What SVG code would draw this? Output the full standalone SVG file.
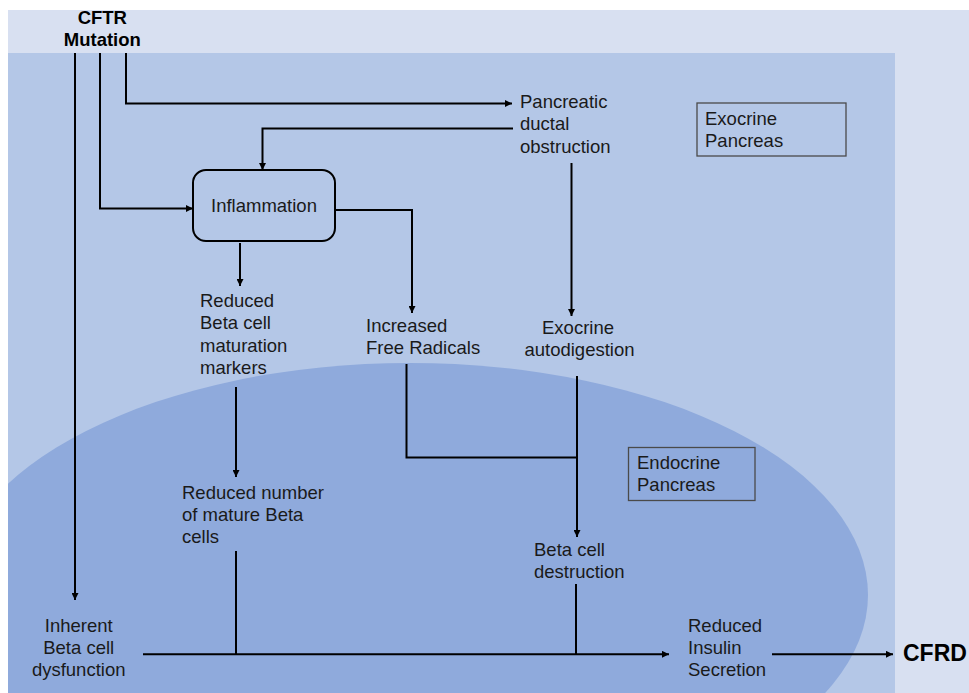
<svg xmlns="http://www.w3.org/2000/svg" width="969" height="693" viewBox="0 0 969 693">
<style>
text{font-family:"Liberation Sans",Arial,sans-serif;font-size:18.5px;fill:#1a1a1a}
.b{font-weight:bold;fill:#000}
.c{stroke:#000;stroke-width:2;fill:none}
.lbl{fill:none;stroke:#4a4a4a;stroke-width:1.3}
</style>
<defs>
<marker id="ah" viewBox="0 0 10 10" refX="10" refY="5" markerWidth="7" markerHeight="7" markerUnits="userSpaceOnUse" orient="auto"><path d="M0,0 L10,5 L0,10 z" fill="#000"/></marker>
<clipPath id="panel"><rect x="8" y="53" width="887" height="640"/></clipPath>
</defs>
<rect width="969" height="693" fill="#fff"/>
<rect x="8" y="10" width="961" height="683" fill="#D8E0F1"/>
<rect x="8" y="53" width="887" height="640" fill="#B4C7E7"/>
<ellipse cx="410" cy="595" rx="458" ry="232" fill="#8FAADC" clip-path="url(#panel)"/>

<g id="connectors">
<path class="c" d="M75,53 V600" marker-end="url(#ah)"/>
<path class="c" d="M100,53 V208.5 H193" marker-end="url(#ah)"/>
<path class="c" d="M126,53 V103.5 H512" marker-end="url(#ah)"/>
<path class="c" d="M513,128.5 H262.5 V170" marker-end="url(#ah)"/>
<path class="c" d="M335,210 H412 V313" marker-end="url(#ah)"/>
<path class="c" d="M240,243 V286" marker-end="url(#ah)"/>
<path class="c" d="M571.5,163 V316" marker-end="url(#ah)"/>
<path class="c" d="M236,387 V477" marker-end="url(#ah)"/>
<path class="c" d="M406.5,364 V457.5 H577"/>
<path class="c" d="M577,376 V537" marker-end="url(#ah)"/>
<path class="c" d="M236,551 V654"/>
<path class="c" d="M576,584 V654"/>
<path class="c" d="M143,654.3 H669" marker-end="url(#ah)"/>
<path class="c" d="M772,654.3 H893" marker-end="url(#ah)"/>
</g>

<g id="cftr">
<text class="b" x="102.3" y="24" text-anchor="middle">CFTR</text>
<text class="b" x="102.3" y="45.5" text-anchor="middle">Mutation</text>
</g>
<g id="pancreatic-ductal-obstruction">
<text x="520" y="107.5">Pancreatic</text>
<text x="520" y="130">ductal</text>
<text x="520" y="152.5">obstruction</text>
</g>
<g id="exocrine-pancreas">
<rect class="lbl" x="697" y="103" width="149" height="53"/>
<text x="705" y="124.5">Exocrine</text>
<text x="705" y="146.5">Pancreas</text>
</g>
<g id="inflammation">
<rect x="193" y="170" width="142" height="71" rx="13" fill="none" stroke="#000" stroke-width="2"/>
<text x="264" y="212" text-anchor="middle">Inflammation</text>
</g>
<g id="reduced-maturation-markers">
<text x="200" y="306.5">Reduced</text>
<text x="200" y="329">Beta cell</text>
<text x="200" y="351.5">maturation</text>
<text x="200" y="374">markers</text>
</g>
<g id="increased-free-radicals">
<text x="366" y="331.5">Increased</text>
<text x="366" y="354">Free Radicals</text>
</g>
<g id="exocrine-autodigestion">
<text x="578" y="333.5" text-anchor="middle">Exocrine</text>
<text x="579.5" y="356" text-anchor="middle">autodigestion</text>
</g>
<g id="endocrine-pancreas">
<rect class="lbl" x="628.5" y="447.5" width="126.5" height="53"/>
<text x="637" y="468.5">Endocrine</text>
<text x="637" y="491">Pancreas</text>
</g>
<g id="reduced-mature-beta-cells">
<text x="182" y="499">Reduced number</text>
<text x="182" y="521">of mature Beta</text>
<text x="182" y="542.5">cells</text>
</g>
<g id="beta-cell-destruction">
<text x="534" y="556">Beta cell</text>
<text x="534" y="578">destruction</text>
</g>
<g id="inherent-beta-cell-dysfunction">
<text x="78.7" y="631.5" text-anchor="middle">Inherent</text>
<text x="78.7" y="653.5" text-anchor="middle">Beta cell</text>
<text x="78.7" y="675.5" text-anchor="middle">dysfunction</text>
</g>
<g id="reduced-insulin-secretion">
<text x="688" y="632">Reduced</text>
<text x="688" y="654">Insulin</text>
<text x="688" y="676">Secretion</text>
</g>
<g id="cfrd">
<text class="b" x="903" y="661" style="font-size:23px">CFRD</text>
</g>
</svg>
